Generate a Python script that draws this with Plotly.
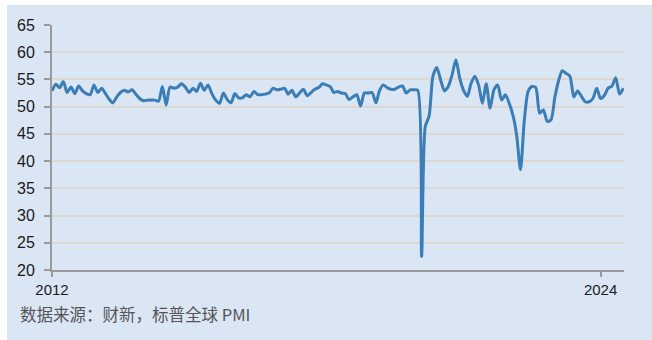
import pandas as pd
import plotly.graph_objects as go

# Monthly index, Jan 2012 - Jul 2024
start_month = "2012-01-01"
n_months = 151
pmi = [
    52.9, 54.1, 53.5, 54.6, 52.6, 53.6, 52.4, 53.8, 52.9, 52.4, 52.2, 54.0,  # 2012
    52.6, 53.4, 52.5, 51.4, 50.7, 51.8, 52.6, 53.0, 52.7, 53.1, 52.3, 51.5,  # 2013
    51.1, 51.2, 51.2, 51.2, 51.0, 53.7, 50.3, 53.6, 53.4, 53.6, 54.2, 53.6,  # 2014
    52.6, 53.4, 52.8, 54.3, 53.0, 54.0, 52.4, 51.2, 50.6, 52.5, 51.3, 50.7,  # 2015
    52.4, 51.6, 51.6, 52.2, 51.8, 52.8, 52.2, 52.2, 52.3, 52.5, 53.4, 53.1,  # 2016
    53.2, 53.4, 52.3, 53.0, 51.8, 52.5, 53.2, 52.0, 52.6, 53.2, 53.5, 54.2,  # 2017
    54.0, 53.7, 52.6, 52.8, 52.5, 52.4, 51.3, 51.8, 52.2, 50.1, 52.5, 52.5,  # 2018
    52.6, 50.7, 52.9, 54.0, 53.5, 53.2, 53.2, 53.6, 53.8, 52.5, 53.1, 53.1,  # 2019
    53.0, 22.5, 46.3, 48.3, 55.5, 57.2, 55.0, 52.9, 53.7, 55.8, 58.6, 55.3,  # 2020
    53.0, 51.9, 54.2, 55.6, 54.0, 50.6, 54.2, 49.7, 53.1, 54.0, 51.2, 52.2,  # 2021
    50.6, 48.3, 44.8, 38.4, 47.3, 52.8, 53.7, 53.5, 48.8, 49.4, 47.3, 47.6,  # 2022
    51.8, 54.9, 56.6, 56.1, 55.6, 51.8, 52.9, 51.9, 50.9, 50.9, 51.5, 53.4,  # 2023
    51.5, 52.1, 53.4, 53.8, 55.3, 52.3, 53.4,                                # 2024
]
dates = pd.date_range(start_month, periods=n_months, freq="MS")

x_tick_vals = ["2012-01-01", "2024-01-01"]
x_tick_text = ["2012", "2024"]
y_tick_vals = [20, 25, 30, 35, 40, 45, 50, 55, 60, 65]
source_text = "数据来源：财新，标普全球 PMI"

BG = "#dbe6f5"
LINE = "#3b7db6"
GRID = "#dcd7d0"
AXIS = "#9a9a9a"

W, H = 652, 340
L, R, T, B = 52, 28, 25, 70
pw, ph = W - L - R, H - T - B


def px_x(p):
    return (p - L) / pw


def px_y(p):
    return (H - B - p) / ph


fig = go.Figure()
fig.add_trace(go.Scatter(
    x=dates, y=pmi, mode="lines",
    line=dict(color=LINE, width=3, shape="spline", smoothing=0.7),
    hoverinfo="x+y", showlegend=False,
))

fig.update_layout(
    width=W, height=H,
    margin=dict(l=L, r=R, t=T, b=B),
    paper_bgcolor=BG, plot_bgcolor=BG,
    font=dict(family="Liberation Sans, Arial, sans-serif", color="#1a1a1a"),
    xaxis=dict(
        range=["2012-01-01", "2024-07-06"],
        tickvals=x_tick_vals, ticktext=x_tick_text,
        showgrid=False, zeroline=False,
        showline=True, linecolor=AXIS, linewidth=2,
        ticks="outside", ticklen=5, tickcolor=AXIS, tickwidth=1.5,
        ticklabelstandoff=0,
        tickfont=dict(size=15),
    ),
    yaxis=dict(
        range=[20, 65], tickvals=y_tick_vals,
        showgrid=True, gridcolor=GRID, gridwidth=1.5, zeroline=False,
        showline=True, linecolor=AXIS, linewidth=2,
        ticks="outside", ticklen=6, tickcolor=AXIS, tickwidth=1.5,
        ticklabelstandoff=6,
        tickfont=dict(size=16),
    ),
    shapes=[
        dict(type="rect", xref="paper", yref="paper", layer="below",
             x0=px_x(0), x1=px_x(7), y0=px_y(H), y1=px_y(0),
             fillcolor="white", line_width=0),
        dict(type="rect", xref="paper", yref="paper", layer="below",
             x0=px_x(0), x1=px_x(W), y0=px_y(5), y1=px_y(0),
             fillcolor="white", line_width=0),
    ],
    annotations=[dict(
        text=source_text, xref="paper", yref="paper",
        x=px_x(19), y=px_y(301), xanchor="left", yanchor="top",
        showarrow=False, borderpad=0,
        font=dict(family="Noto Sans CJK SC, sans-serif", size=16.5, color="#555555"),
    )],
)

fig.write_html("out.html")
